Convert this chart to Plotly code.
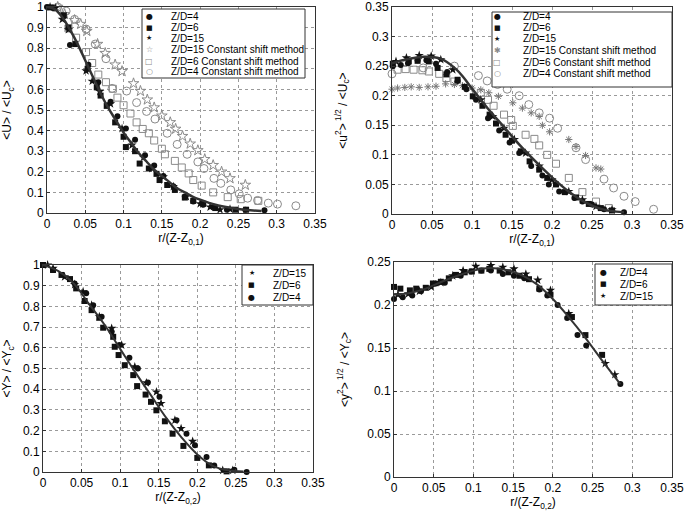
import plotly.graph_objects as go

W, H = 685, 514

# ---------------- data: top-left  <U>/<Uc> ----------------
tl_line_x = [0, 0.01, 0.02, 0.03, 0.04, 0.05, 0.06, 0.07, 0.08, 0.09, 0.10, 0.11, 0.12, 0.13, 0.14, 0.15,
             0.16, 0.17, 0.18, 0.19, 0.20, 0.22, 0.24, 0.26, 0.28]
tl_line_y = [1.0, 0.99, 0.95, 0.89, 0.82, 0.74, 0.66, 0.58, 0.51, 0.45, 0.39, 0.34, 0.29, 0.25, 0.21, 0.18,
             0.15, 0.12, 0.10, 0.08, 0.065, 0.04, 0.025, 0.015, 0.01]
tl_zd4_x = [0.0, 0.008, 0.030, 0.054, 0.067, 0.083, 0.092, 0.103, 0.115, 0.128, 0.140, 0.152, 0.165, 0.180,
            0.191, 0.204, 0.217, 0.235, 0.259, 0.284]
tl_zd4_y = [1.0, 0.995, 0.816, 0.72, 0.635, 0.54, 0.47, 0.41, 0.355, 0.28, 0.23, 0.18, 0.13, 0.08, 0.056,
            0.04, 0.029, 0.016, 0.016, 0.013]
tl_zd6_x = [0.005, 0.022, 0.028, 0.037, 0.053, 0.065, 0.070, 0.078, 0.089, 0.100, 0.103, 0.115, 0.121, 0.133,
            0.143, 0.147, 0.157, 0.167, 0.180, 0.191, 0.204, 0.220, 0.246, 0.260]
tl_zd6_y = [0.998, 0.96, 0.90, 0.82, 0.70, 0.61, 0.57, 0.52, 0.44, 0.37, 0.32, 0.30, 0.24, 0.216, 0.19, 0.16,
            0.136, 0.112, 0.075, 0.059, 0.045, 0.024, 0.016, 0.016]
tl_zd15_x = [0.004, 0.011, 0.020, 0.028, 0.051, 0.059, 0.069, 0.083, 0.098, 0.111, 0.126, 0.137, 0.152, 0.165,
             0.182, 0.200, 0.213, 0.226, 0.239]
tl_zd15_y = [1.0, 0.995, 0.94, 0.89, 0.69, 0.64, 0.59, 0.53, 0.41, 0.33, 0.27, 0.216, 0.176, 0.128, 0.08,
             0.045, 0.029, 0.016, 0.019]
tl_cs15_x = [0.014, 0.023, 0.036, 0.044, 0.052, 0.066, 0.076, 0.089, 0.098, 0.113, 0.122, 0.131, 0.140, 0.150,
             0.161, 0.168, 0.177, 0.187, 0.197, 0.206, 0.217, 0.228, 0.239, 0.259]
tl_cs15_y = [1.0, 0.965, 0.936, 0.917, 0.883, 0.82, 0.776, 0.72, 0.688, 0.629, 0.592, 0.55, 0.512, 0.472, 0.44,
             0.408, 0.373, 0.336, 0.304, 0.261, 0.232, 0.2, 0.168, 0.136]
tl_cs6_x = [0.028, 0.038, 0.051, 0.059, 0.067, 0.077, 0.086, 0.092, 0.100, 0.109, 0.117, 0.125, 0.133, 0.140,
            0.150, 0.154, 0.167, 0.176, 0.185, 0.191, 0.202, 0.217, 0.236, 0.253, 0.276]
tl_cs6_y = [0.896, 0.851, 0.781, 0.728, 0.672, 0.635, 0.603, 0.56, 0.523, 0.483, 0.44, 0.408, 0.387, 0.352,
            0.312, 0.285, 0.253, 0.221, 0.192, 0.16, 0.133, 0.1, 0.077, 0.067, 0.059]
tl_cs4_x = [0.014, 0.025, 0.036, 0.051, 0.063, 0.077, 0.085, 0.104, 0.117, 0.130, 0.141, 0.157, 0.170, 0.183,
            0.197, 0.205, 0.218, 0.227, 0.240, 0.251, 0.262, 0.275, 0.289, 0.301, 0.325]
tl_cs4_y = [1.0, 0.98, 0.94, 0.893, 0.82, 0.749, 0.605, 0.592, 0.536, 0.493, 0.456, 0.387, 0.333, 0.285, 0.248,
            0.216, 0.168, 0.144, 0.112, 0.093, 0.072, 0.061, 0.048, 0.043, 0.035]

# ---------------- data: top-right  <u^2>^1/2/<Uc> ----------------
tr_line_x = [0, 0.02, 0.04, 0.06, 0.08, 0.09, 0.10, 0.12, 0.14, 0.16, 0.18, 0.20, 0.22, 0.24, 0.26, 0.28, 0.29]
tr_line_y = [0.255, 0.262, 0.266, 0.263, 0.245, 0.23, 0.212, 0.178, 0.147, 0.116, 0.088, 0.062, 0.039, 0.021,
             0.009, 0.004, 0.003]
tr_zd4_x = [0.001, 0.011, 0.020, 0.032, 0.043, 0.055, 0.069, 0.082, 0.093, 0.105, 0.120, 0.134, 0.147, 0.159,
            0.174, 0.188, 0.196, 0.209, 0.228, 0.238, 0.250, 0.265, 0.290]
tr_zd4_y = [0.25, 0.252, 0.255, 0.26, 0.26, 0.254, 0.24, 0.225, 0.211, 0.193, 0.162, 0.141, 0.121, 0.103, 0.081,
            0.065, 0.05, 0.038, 0.027, 0.021, 0.016, 0.008, 0.003]
tr_zd6_x = [0.001, 0.021, 0.032, 0.046, 0.057, 0.068, 0.082, 0.091, 0.101, 0.113, 0.122, 0.130, 0.142, 0.150,
            0.161, 0.172, 0.184, 0.194, 0.205, 0.216, 0.230, 0.246, 0.261, 0.275]
tr_zd6_y = [0.254, 0.258, 0.259, 0.258, 0.247, 0.236, 0.227, 0.215, 0.199, 0.183, 0.168, 0.153, 0.134, 0.124,
            0.106, 0.089, 0.075, 0.061, 0.05, 0.037, 0.028, 0.017, 0.01, 0.006]
tr_zd15_x = [0.005, 0.018, 0.034, 0.049, 0.061, 0.076, 0.111, 0.126, 0.140, 0.153, 0.167, 0.184, 0.200, 0.221,
             0.238, 0.255, 0.275]
tr_zd15_y = [0.258, 0.264, 0.268, 0.267, 0.261, 0.244, 0.193, 0.165, 0.145, 0.126, 0.103, 0.081, 0.058, 0.038,
             0.024, 0.013, 0.007]
tr_cs15_x = [0.0, 0.007, 0.016, 0.024, 0.034, 0.045, 0.055, 0.067, 0.078, 0.088, 0.100, 0.111, 0.121, 0.133,
             0.151, 0.163, 0.174, 0.184, 0.188, 0.197, 0.221, 0.230, 0.242, 0.255, 0.261]
tr_cs15_y = [0.211, 0.213, 0.214, 0.215, 0.214, 0.215, 0.216, 0.22, 0.219, 0.217, 0.213, 0.21, 0.205, 0.199,
             0.188, 0.179, 0.171, 0.165, 0.15, 0.139, 0.126, 0.114, 0.099, 0.078, 0.076]
tr_cs6_x = [0.007, 0.017, 0.027, 0.038, 0.046, 0.059, 0.068, 0.078, 0.111, 0.120, 0.127, 0.140, 0.149, 0.151,
            0.167, 0.178, 0.184, 0.194, 0.205, 0.221, 0.238, 0.255, 0.271]
tr_cs6_y = [0.244, 0.245, 0.244, 0.243, 0.241, 0.237, 0.23, 0.224, 0.205, 0.193, 0.183, 0.168, 0.159, 0.149,
            0.134, 0.127, 0.116, 0.1, 0.085, 0.061, 0.037, 0.021, 0.01]
tr_cs4_x = [0.0, 0.039, 0.078, 0.108, 0.119, 0.132, 0.144, 0.159, 0.171, 0.184, 0.197, 0.207, 0.230, 0.242,
            0.265, 0.277, 0.290, 0.304, 0.327]
tr_cs4_y = [0.237, 0.247, 0.25, 0.234, 0.225, 0.219, 0.211, 0.2, 0.185, 0.171, 0.162, 0.145, 0.112, 0.092,
            0.059, 0.044, 0.03, 0.021, 0.008]

# ---------------- data: bottom-left  <Y>/<Yc> ----------------
bl_line_x = [0, 0.02, 0.04, 0.06, 0.08, 0.10, 0.12, 0.14, 0.16, 0.18, 0.20, 0.22, 0.24, 0.26]
bl_line_y = [1.0, 0.97, 0.91, 0.81, 0.71, 0.595, 0.48, 0.37, 0.26, 0.165, 0.085, 0.03, 0.008, 0.003]
bl_zd15_x = [0.006, 0.013, 0.028, 0.041, 0.052, 0.063, 0.073, 0.089, 0.102, 0.119, 0.134, 0.147, 0.153, 0.171,
             0.179, 0.194, 0.233, 0.246]
bl_zd15_y = [1.0, 0.984, 0.943, 0.906, 0.871, 0.806, 0.75, 0.694, 0.613, 0.508, 0.431, 0.387, 0.331, 0.25, 0.21,
             0.148, 0.008, 0.008]
bl_zd6_x = [0.0, 0.013, 0.024, 0.035, 0.043, 0.054, 0.063, 0.073, 0.078, 0.091, 0.093, 0.098, 0.106, 0.117,
            0.122, 0.133, 0.140, 0.147, 0.158, 0.168, 0.182, 0.200, 0.215, 0.238]
bl_zd6_y = [1.0, 0.976, 0.952, 0.932, 0.887, 0.826, 0.782, 0.745, 0.697, 0.653, 0.605, 0.565, 0.516, 0.468,
            0.415, 0.374, 0.339, 0.298, 0.245, 0.185, 0.126, 0.068, 0.032, 0.003]
bl_zd4_x = [0.0, 0.013, 0.041, 0.056, 0.065, 0.076, 0.089, 0.099, 0.112, 0.123, 0.136, 0.151, 0.173, 0.186,
            0.197, 0.212, 0.222, 0.248, 0.264]
bl_zd4_y = [1.0, 0.976, 0.911, 0.863, 0.806, 0.75, 0.677, 0.613, 0.552, 0.5, 0.432, 0.363, 0.25, 0.185, 0.129,
            0.073, 0.032, 0.011, 0.0]

# ---------------- data: bottom-right  <y^2>^1/2/<Yc> ----------------
br_line_x = [0, 0.02, 0.04, 0.06, 0.08, 0.10, 0.12, 0.14, 0.16, 0.18, 0.20, 0.22, 0.24, 0.26, 0.285]
br_line_y = [0.212, 0.214, 0.219, 0.227, 0.234, 0.240, 0.243, 0.241, 0.235, 0.224, 0.207, 0.186, 0.163, 0.138,
             0.108]
br_zd4_x = [0.0, 0.011, 0.023, 0.034, 0.053, 0.064, 0.084, 0.097, 0.110, 0.122, 0.137, 0.151, 0.164, 0.183,
            0.193, 0.206, 0.218, 0.231, 0.242, 0.285]
br_zd4_y = [0.207, 0.209, 0.211, 0.216, 0.225, 0.226, 0.234, 0.239, 0.24, 0.24, 0.236, 0.234, 0.231, 0.218,
            0.211, 0.2, 0.185, 0.165, 0.153, 0.108]
br_zd6_x = [0.0, 0.008, 0.020, 0.028, 0.040, 0.049, 0.059, 0.069, 0.078, 0.089, 0.098, 0.110, 0.120, 0.133,
            0.144, 0.158, 0.170, 0.183, 0.197, 0.224, 0.241, 0.262]
br_zd6_y = [0.221, 0.219, 0.217, 0.219, 0.22, 0.225, 0.227, 0.231, 0.235, 0.238, 0.239, 0.24, 0.242, 0.24, 0.238,
            0.234, 0.23, 0.219, 0.212, 0.186, 0.165, 0.142]
br_zd15_x = [0.005, 0.018, 0.032, 0.047, 0.059, 0.074, 0.087, 0.103, 0.122, 0.137, 0.151, 0.166, 0.181, 0.197,
             0.220, 0.266, 0.278]
br_zd15_y = [0.212, 0.213, 0.216, 0.221, 0.226, 0.234, 0.24, 0.245, 0.246, 0.244, 0.242, 0.236, 0.229, 0.217,
             0.19, 0.132, 0.119]

# ---------------- ticks & labels ----------------
x_ticks = [0, 0.05, 0.1, 0.15, 0.2, 0.25, 0.3, 0.35]
x_tick_text = ["0", "0.05", "0.1", "0.15", "0.2", "0.25", "0.3", "0.35"]
y1_ticks = [0, 0.1, 0.2, 0.3, 0.4, 0.5, 0.6, 0.7, 0.8, 0.9, 1]
y1_tick_text = ["0", "0.1", "0.2", "0.3", "0.4", "0.5", "0.6", "0.7", "0.8", "0.9", "1"]
y2_ticks = [0, 0.05, 0.1, 0.15, 0.2, 0.25, 0.3, 0.35]
y2_tick_text = ["0", "0.05", "0.1", "0.15", "0.2", "0.25", "0.3", "0.35"]
y4_ticks = [0, 0.05, 0.1, 0.15, 0.2, 0.25]
y4_tick_text = ["0", "0.05", "0.1", "0.15", "0.2", "0.25"]

lbl_zd4 = "Z/D=4"
lbl_zd6 = "Z/D=6"
lbl_zd15 = "Z/D=15"
lbl_cs15 = "Z/D=15 Constant shift method"
lbl_cs6 = "Z/D=6 Constant shift method"
lbl_cs4 = "Z/D=4 Constant shift method"

# ---------------- styles ----------------
FONT = "Liberation Sans, Arial, sans-serif"
DARK = "#111111"
GRAY = "#8a8a8a"
LINE = "#333333"

STY = {
    "zd4": dict(symbol="circle", size=6, color=DARK),
    "zd6": dict(symbol="square", size=6, color=DARK),
    "zd15": dict(symbol="star", size=7, color=DARK),
    "cs15star": dict(symbol="star-open", size=8, color=GRAY, line=dict(color=GRAY, width=1)),
    "cs15ast": dict(symbol="asterisk-open", size=6, color="#777777", line=dict(color="#777777", width=1)),
    "cs6": dict(symbol="square-open", size=7, color=GRAY, line=dict(color=GRAY, width=1)),
    "cs4": dict(symbol="circle-open", size=8, color=GRAY, line=dict(color=GRAY, width=1)),
}

fig = go.Figure()


def pts(x, y, style, name, ax):
    fig.add_trace(go.Scatter(x=x, y=y, mode="markers", marker=STY[style], name=name,
                             xaxis="x" + ax, yaxis="y" + ax, showlegend=False, cliponaxis=False))


def curve(x, y, ax, w=2.5):
    fig.add_trace(go.Scatter(x=x, y=y, mode="lines", line=dict(color=LINE, width=w, shape="spline"),
                             xaxis="x" + ax, yaxis="y" + ax, showlegend=False, hoverinfo="skip"))


# top-left
pts(tl_cs4_x, tl_cs4_y, "cs4", lbl_cs4, "")
pts(tl_cs6_x, tl_cs6_y, "cs6", lbl_cs6, "")
pts(tl_cs15_x, tl_cs15_y, "cs15star", lbl_cs15, "")
pts(tl_zd4_x, tl_zd4_y, "zd4", lbl_zd4, "")
pts(tl_zd6_x, tl_zd6_y, "zd6", lbl_zd6, "")
pts(tl_zd15_x, tl_zd15_y, "zd15", lbl_zd15, "")
curve(tl_line_x, tl_line_y, "")
# top-right
pts(tr_cs4_x, tr_cs4_y, "cs4", lbl_cs4, "2")
pts(tr_cs6_x, tr_cs6_y, "cs6", lbl_cs6, "2")
pts(tr_cs15_x, tr_cs15_y, "cs15ast", lbl_cs15, "2")
pts(tr_zd4_x, tr_zd4_y, "zd4", lbl_zd4, "2")
pts(tr_zd6_x, tr_zd6_y, "zd6", lbl_zd6, "2")
pts(tr_zd15_x, tr_zd15_y, "zd15", lbl_zd15, "2")
curve(tr_line_x, tr_line_y, "2")
# bottom-left
pts(bl_zd15_x, bl_zd15_y, "zd15", lbl_zd15, "3")
pts(bl_zd6_x, bl_zd6_y, "zd6", lbl_zd6, "3")
pts(bl_zd4_x, bl_zd4_y, "zd4", lbl_zd4, "3")
curve(bl_line_x, bl_line_y, "3", 2)
# bottom-right
pts(br_zd4_x, br_zd4_y, "zd4", lbl_zd4, "4")
pts(br_zd6_x, br_zd6_y, "zd6", lbl_zd6, "4")
pts(br_zd15_x, br_zd15_y, "zd15", lbl_zd15, "4")
curve(br_line_x, br_line_y, "4", 2)


def dx(a, b):
    return [a / W, b / W]


def dy(top, bottom):
    return [1 - bottom / H, 1 - top / H]


def axis_style(domain, anchor, rng, tv, tt, title, is_x):
    d = dict(domain=domain, anchor=anchor, range=rng, tickvals=tv, ticktext=tt,
             showline=True, mirror=True, linecolor="#333333", linewidth=1,
             showgrid=True, gridcolor="#9a9a9a", griddash="dot", gridwidth=1,
             zeroline=False, ticks="inside", ticklen=3, tickcolor="#333333",
             ticklabeloverflow="allow",
             tickfont=dict(family=FONT, size=12, color="black"),
             title=dict(text=title, font=dict(family=FONT, size=12, color="black")))
    if is_x:
        d["automargin"] = True
        d["title"]["standoff"] = 3
    return d


xt1 = "r/(Z-Z<sub>0,1</sub>)"
xt2 = "r/(Z-Z<sub>0,2</sub>)"

fig.update_layout(
    width=W, height=H, margin=dict(l=0, r=0, t=0, b=0, autoexpand=False),
    paper_bgcolor="white", plot_bgcolor="white", showlegend=False,
    font=dict(family=FONT, color="black"),
    xaxis=axis_style(dx(47, 315), "y", [0, 0.35], x_ticks, x_tick_text, xt1, True),
    yaxis=axis_style(dy(7, 213), "x", [0, 1], y1_ticks, y1_tick_text,
                     "&lt;U&gt; / &lt;U<sub>c</sub>&gt;", False),
    xaxis2=axis_style(dx(392, 672), "y2", [0, 0.35], x_ticks, x_tick_text, xt1, True),
    yaxis2=axis_style(dy(7, 214), "x2", [0, 0.35], y2_ticks, y2_tick_text,
                      "&lt;u<sup>2</sup>&gt;<sup> 1/2</sup> / &lt;U<sub>c</sub>&gt;", False),
    xaxis3=axis_style(dx(43, 313), "y3", [0, 0.35], x_ticks, x_tick_text, xt2, True),
    yaxis3=axis_style(dy(265, 472), "x3", [0, 1], y1_ticks, y1_tick_text,
                      "&lt;Y&gt; / &lt;Y<sub>c</sub>&gt;", False),
    xaxis4=axis_style(dx(394, 672), "y4", [0, 0.35], x_ticks, x_tick_text, xt2, True),
    yaxis4=axis_style(dy(262, 477), "x4", [0, 0.25], y4_ticks, y4_tick_text,
                      "&lt;y<sup>2</sup>&gt;<sup> 1/2</sup> / &lt;Y<sub>c</sub>&gt;", False),
)

shapes = []
annots = []


def legend_box(x0, y0, x1, y1, sym_x, txt_x, rows_y, items, fs):
    shapes.append(dict(type="rect", xref="paper", yref="paper", x0=x0 / W, x1=x1 / W,
                       y0=1 - y1 / H, y1=1 - y0 / H, line=dict(color="#333333", width=1),
                       fillcolor="white", layer="above"))
    for (sym, col, ssz, label), ry in zip(items, rows_y):
        annots.append(dict(xref="paper", yref="paper", x=sym_x / W, y=1 - ry / H, text=sym,
                           showarrow=False, xanchor="center", yanchor="middle",
                           font=dict(family="DejaVu Sans", size=ssz, color=col)))
        annots.append(dict(xref="paper", yref="paper", x=txt_x / W, y=1 - ry / H, text=label,
                           showarrow=False, xanchor="left", yanchor="middle",
                           font=dict(family=FONT, size=fs, color="black")))


legend_box(142, 9, 305, 78, 149, 169, [16, 27.5, 38.5, 50, 61, 72],
           [("●", DARK, 8, lbl_zd4), ("■", DARK, 7, lbl_zd6), ("★", DARK, 7, lbl_zd15),
            ("☆", GRAY, 8, lbl_cs15), ("□", GRAY, 8, lbl_cs6), ("○", GRAY, 8, lbl_cs4)], 10)
legend_box(492, 12, 672, 87, 497, 521, [16, 27.5, 39, 50.5, 62, 74],
           [("●", DARK, 8, lbl_zd4), ("■", DARK, 7, lbl_zd6), ("★", DARK, 7, lbl_zd15),
            ("✱", GRAY, 8, lbl_cs15), ("□", GRAY, 8, lbl_cs6), ("○", GRAY, 8, lbl_cs4)], 10)
legend_box(242, 265, 313, 305, 252, 271, [273, 285, 297],
           [("★", DARK, 7, lbl_zd15), ("■", DARK, 7, lbl_zd6), ("●", DARK, 8, lbl_zd4)], 10)
legend_box(595, 264, 672, 305, 603, 618, [272, 284, 296],
           [("●", DARK, 8, lbl_zd4), ("■", DARK, 7, lbl_zd6), ("★", DARK, 7, lbl_zd15)], 10)

fig.update_layout(shapes=shapes, annotations=annots)

fig.write_html("out.html", config={"displayModeBar": False},
               post_script="document.body.style.margin='0';document.body.style.padding='0';")
